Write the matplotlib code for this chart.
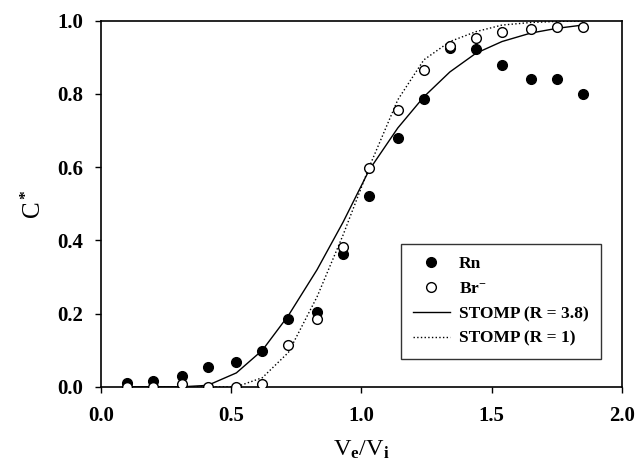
import matplotlib
matplotlib.use("Agg")
import matplotlib.pyplot as plt

plt.rcParams["font.family"] = ["Liberation Serif", "DejaVu Serif"]
plt.rcParams["font.weight"] = "bold"
plt.rcParams["mathtext.fontset"] = "custom"
plt.rcParams["mathtext.rm"] = "Liberation Serif:bold"
plt.rcParams["mathtext.it"] = "Liberation Serif:bold"
plt.rcParams["mathtext.bf"] = "Liberation Serif:bold"

# pore volumes eluted (V_e / V_i)
ve_vi = [0.10, 0.20, 0.31, 0.41, 0.52, 0.62, 0.72, 0.83, 0.93,
         1.03, 1.14, 1.24, 1.34, 1.44, 1.54, 1.65, 1.75, 1.85]

# measured relative concentrations
rn = [0.010, 0.015, 0.030, 0.055, 0.068, 0.098, 0.185, 0.205, 0.362,
      0.521, 0.680, 0.785, 0.925, 0.924, 0.880, 0.840, 0.840, 0.800]
br = [0.000, 0.000, 0.009, 0.000, 0.000, 0.009, 0.114, 0.185, 0.383,
      0.597, 0.755, 0.866, 0.930, 0.953, 0.968, 0.977, 0.984, 0.984]

# STOMP simulations
stomp_r38 = [0.000, 0.000, 0.000, 0.004, 0.038, 0.100, 0.195, 0.320, 0.450,
             0.592, 0.707, 0.792, 0.860, 0.911, 0.943, 0.966, 0.979, 0.988]
stomp_r1 = [0.000, 0.000, 0.000, 0.000, 0.000, 0.025, 0.094, 0.246, 0.415,
            0.600, 0.784, 0.893, 0.943, 0.970, 0.988, 0.995, 0.998, 0.999]

fig = plt.figure(figsize=(6.39, 4.70), dpi=100)
ax = fig.add_axes([0.158, 0.177, 0.815, 0.779])

ax.plot(ve_vi, rn, "o", color="black", markersize=7, label="Rn", zorder=3)
ax.plot(ve_vi, br, "o", markerfacecolor="white", markeredgecolor="black",
        markeredgewidth=1.0, markersize=7, label="Br$^{-}$", zorder=4)
ax.plot(ve_vi, stomp_r38, "-", color="black", linewidth=1.0,
        label="STOMP (R = 3.8)", zorder=2)
ax.plot(ve_vi, stomp_r1, ":", color="black", linewidth=1.0,
        label="STOMP (R = 1)", zorder=2)

ax.set_xlim(0, 2.0)
ax.set_ylim(0, 1.0)
ax.set_xticks([0.0, 0.5, 1.0, 1.5, 2.0])
ax.set_yticks([0.0, 0.2, 0.4, 0.6, 0.8, 1.0])
ax.set_xticklabels(["0.0", "0.5", "1.0", "1.5", "2.0"])
ax.set_yticklabels(["0.0", "0.2", "0.4", "0.6", "0.8", "1.0"])
ax.tick_params(direction="out", length=4, width=1.0, labelsize=15)
ax.tick_params(axis="x", pad=10)
ax.tick_params(axis="y", pad=9)
for s in ax.spines.values():
    s.set_linewidth(1.2)

ax.set_xlabel("V$_\\mathrm{e}$/V$_\\mathrm{i}$", fontsize=17.5, labelpad=9)
ax.set_ylabel("C$^*$", fontsize=18, labelpad=8)

leg = ax.legend(loc="upper left", bbox_to_anchor=(0.576, 0.39),
                borderaxespad=0, fontsize=12.5, frameon=True, fancybox=False,
                edgecolor="black", handlelength=2.1, handletextpad=0.55,
                labelspacing=0.5, borderpad=0.7, numpoints=1)
leg.get_frame().set_linewidth(1.0)

fig.savefig("out.png", dpi=100)
